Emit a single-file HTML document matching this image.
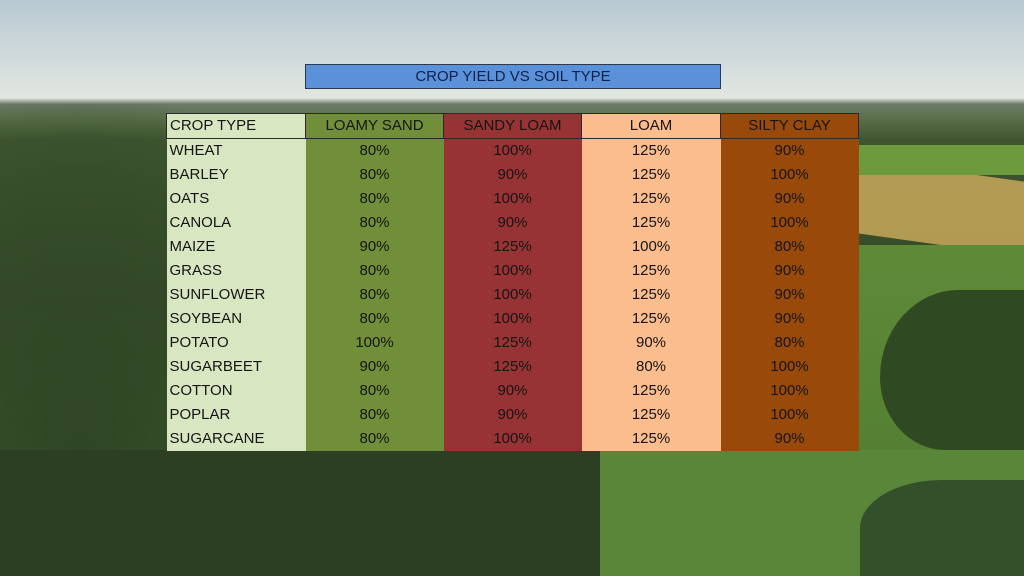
<!DOCTYPE html>
<html><head><style>
body{margin:0;width:1024px;height:576px;overflow:hidden;position:relative;font-family:"Liberation Sans",sans-serif;
background:linear-gradient(180deg,#b8c9d3 0px,#d6dedd 70px,#e2e6e0 98px,#6d7a6a 104px,#59704a 118px,#3e5530 140px,#344a28 300px,#3a5a2a 576px);}
.bg{position:absolute}
table{position:absolute;left:166px;top:113px;border-collapse:collapse;font-size:15px;color:#151515;table-layout:fixed;width:692px}
td{height:24px;padding:0;text-align:center;line-height:24px;overflow:hidden;white-space:nowrap}
td:first-child{text-align:left;padding-left:3px;background:#d9e6c2}
.c1{background:#718e38}.c2{background:#973334}.c3{background:#fbbd8d}.c4{background:#994a0a}
tr.h td{border:1px solid #2a2a2a;height:23px}
.title{position:absolute;left:305px;top:64px;width:414px;height:23px;background:#5b91d9;border:1px solid #2a3a55;color:#10214a;font-size:15px;text-align:center;line-height:24px}
</style></head><body>
<div class="bg" style="left:0;top:104px;width:1024px;height:472px;background:
radial-gradient(ellipse 300px 250px at 820px 450px,#5f8a3c,transparent),
radial-gradient(ellipse 250px 200px at 650px 500px,#587f37,transparent),
radial-gradient(ellipse 200px 400px at 80px 350px,#2f4524,transparent);"></div>
<div class="bg" style="left:858px;top:170px;width:166px;height:75px;background:#c8a85a;opacity:.85;transform:skewY(8deg)"></div>
<div class="bg" style="left:858px;top:145px;width:166px;height:30px;background:#6e9a3e"></div>
<div class="bg" style="left:858px;top:245px;width:166px;height:331px;background:linear-gradient(180deg,#5e8a38,#4f7a30)"></div>
<div class="bg" style="left:880px;top:290px;width:144px;height:160px;background:#2f4a22;border-radius:60% 0 0 50%"></div>
<div class="bg" style="left:600px;top:450px;width:424px;height:126px;background:#5a863a"></div>
<div class="bg" style="left:860px;top:480px;width:164px;height:96px;background:#34502a;border-radius:50% 0 0 0"></div>
<div class="bg" style="left:0;top:450px;width:600px;height:126px;background:#2c3f22"></div>
<div class="title">CROP YIELD VS SOIL TYPE</div>
<table>
<colgroup><col style="width:139px"><col style="width:138px"><col style="width:138px"><col style="width:139px"><col style="width:138px"></colgroup>
<tr class="h"><td>CROP TYPE</td><td class="c1">LOAMY SAND</td><td class="c2">SANDY LOAM</td><td class="c3">LOAM</td><td class="c4">SILTY CLAY</td></tr>
<tr><td>WHEAT</td><td class="c1">80%</td><td class="c2">100%</td><td class="c3">125%</td><td class="c4">90%</td></tr>
<tr><td>BARLEY</td><td class="c1">80%</td><td class="c2">90%</td><td class="c3">125%</td><td class="c4">100%</td></tr>
<tr><td>OATS</td><td class="c1">80%</td><td class="c2">100%</td><td class="c3">125%</td><td class="c4">90%</td></tr>
<tr><td>CANOLA</td><td class="c1">80%</td><td class="c2">90%</td><td class="c3">125%</td><td class="c4">100%</td></tr>
<tr><td>MAIZE</td><td class="c1">90%</td><td class="c2">125%</td><td class="c3">100%</td><td class="c4">80%</td></tr>
<tr><td>GRASS</td><td class="c1">80%</td><td class="c2">100%</td><td class="c3">125%</td><td class="c4">90%</td></tr>
<tr><td>SUNFLOWER</td><td class="c1">80%</td><td class="c2">100%</td><td class="c3">125%</td><td class="c4">90%</td></tr>
<tr><td>SOYBEAN</td><td class="c1">80%</td><td class="c2">100%</td><td class="c3">125%</td><td class="c4">90%</td></tr>
<tr><td>POTATO</td><td class="c1">100%</td><td class="c2">125%</td><td class="c3">90%</td><td class="c4">80%</td></tr>
<tr><td>SUGARBEET</td><td class="c1">90%</td><td class="c2">125%</td><td class="c3">80%</td><td class="c4">100%</td></tr>
<tr><td>COTTON</td><td class="c1">80%</td><td class="c2">90%</td><td class="c3">125%</td><td class="c4">100%</td></tr>
<tr><td>POPLAR</td><td class="c1">80%</td><td class="c2">90%</td><td class="c3">125%</td><td class="c4">100%</td></tr>
<tr><td>SUGARCANE</td><td class="c1">80%</td><td class="c2">100%</td><td class="c3">125%</td><td class="c4">90%</td></tr>
</table>
</body></html>
